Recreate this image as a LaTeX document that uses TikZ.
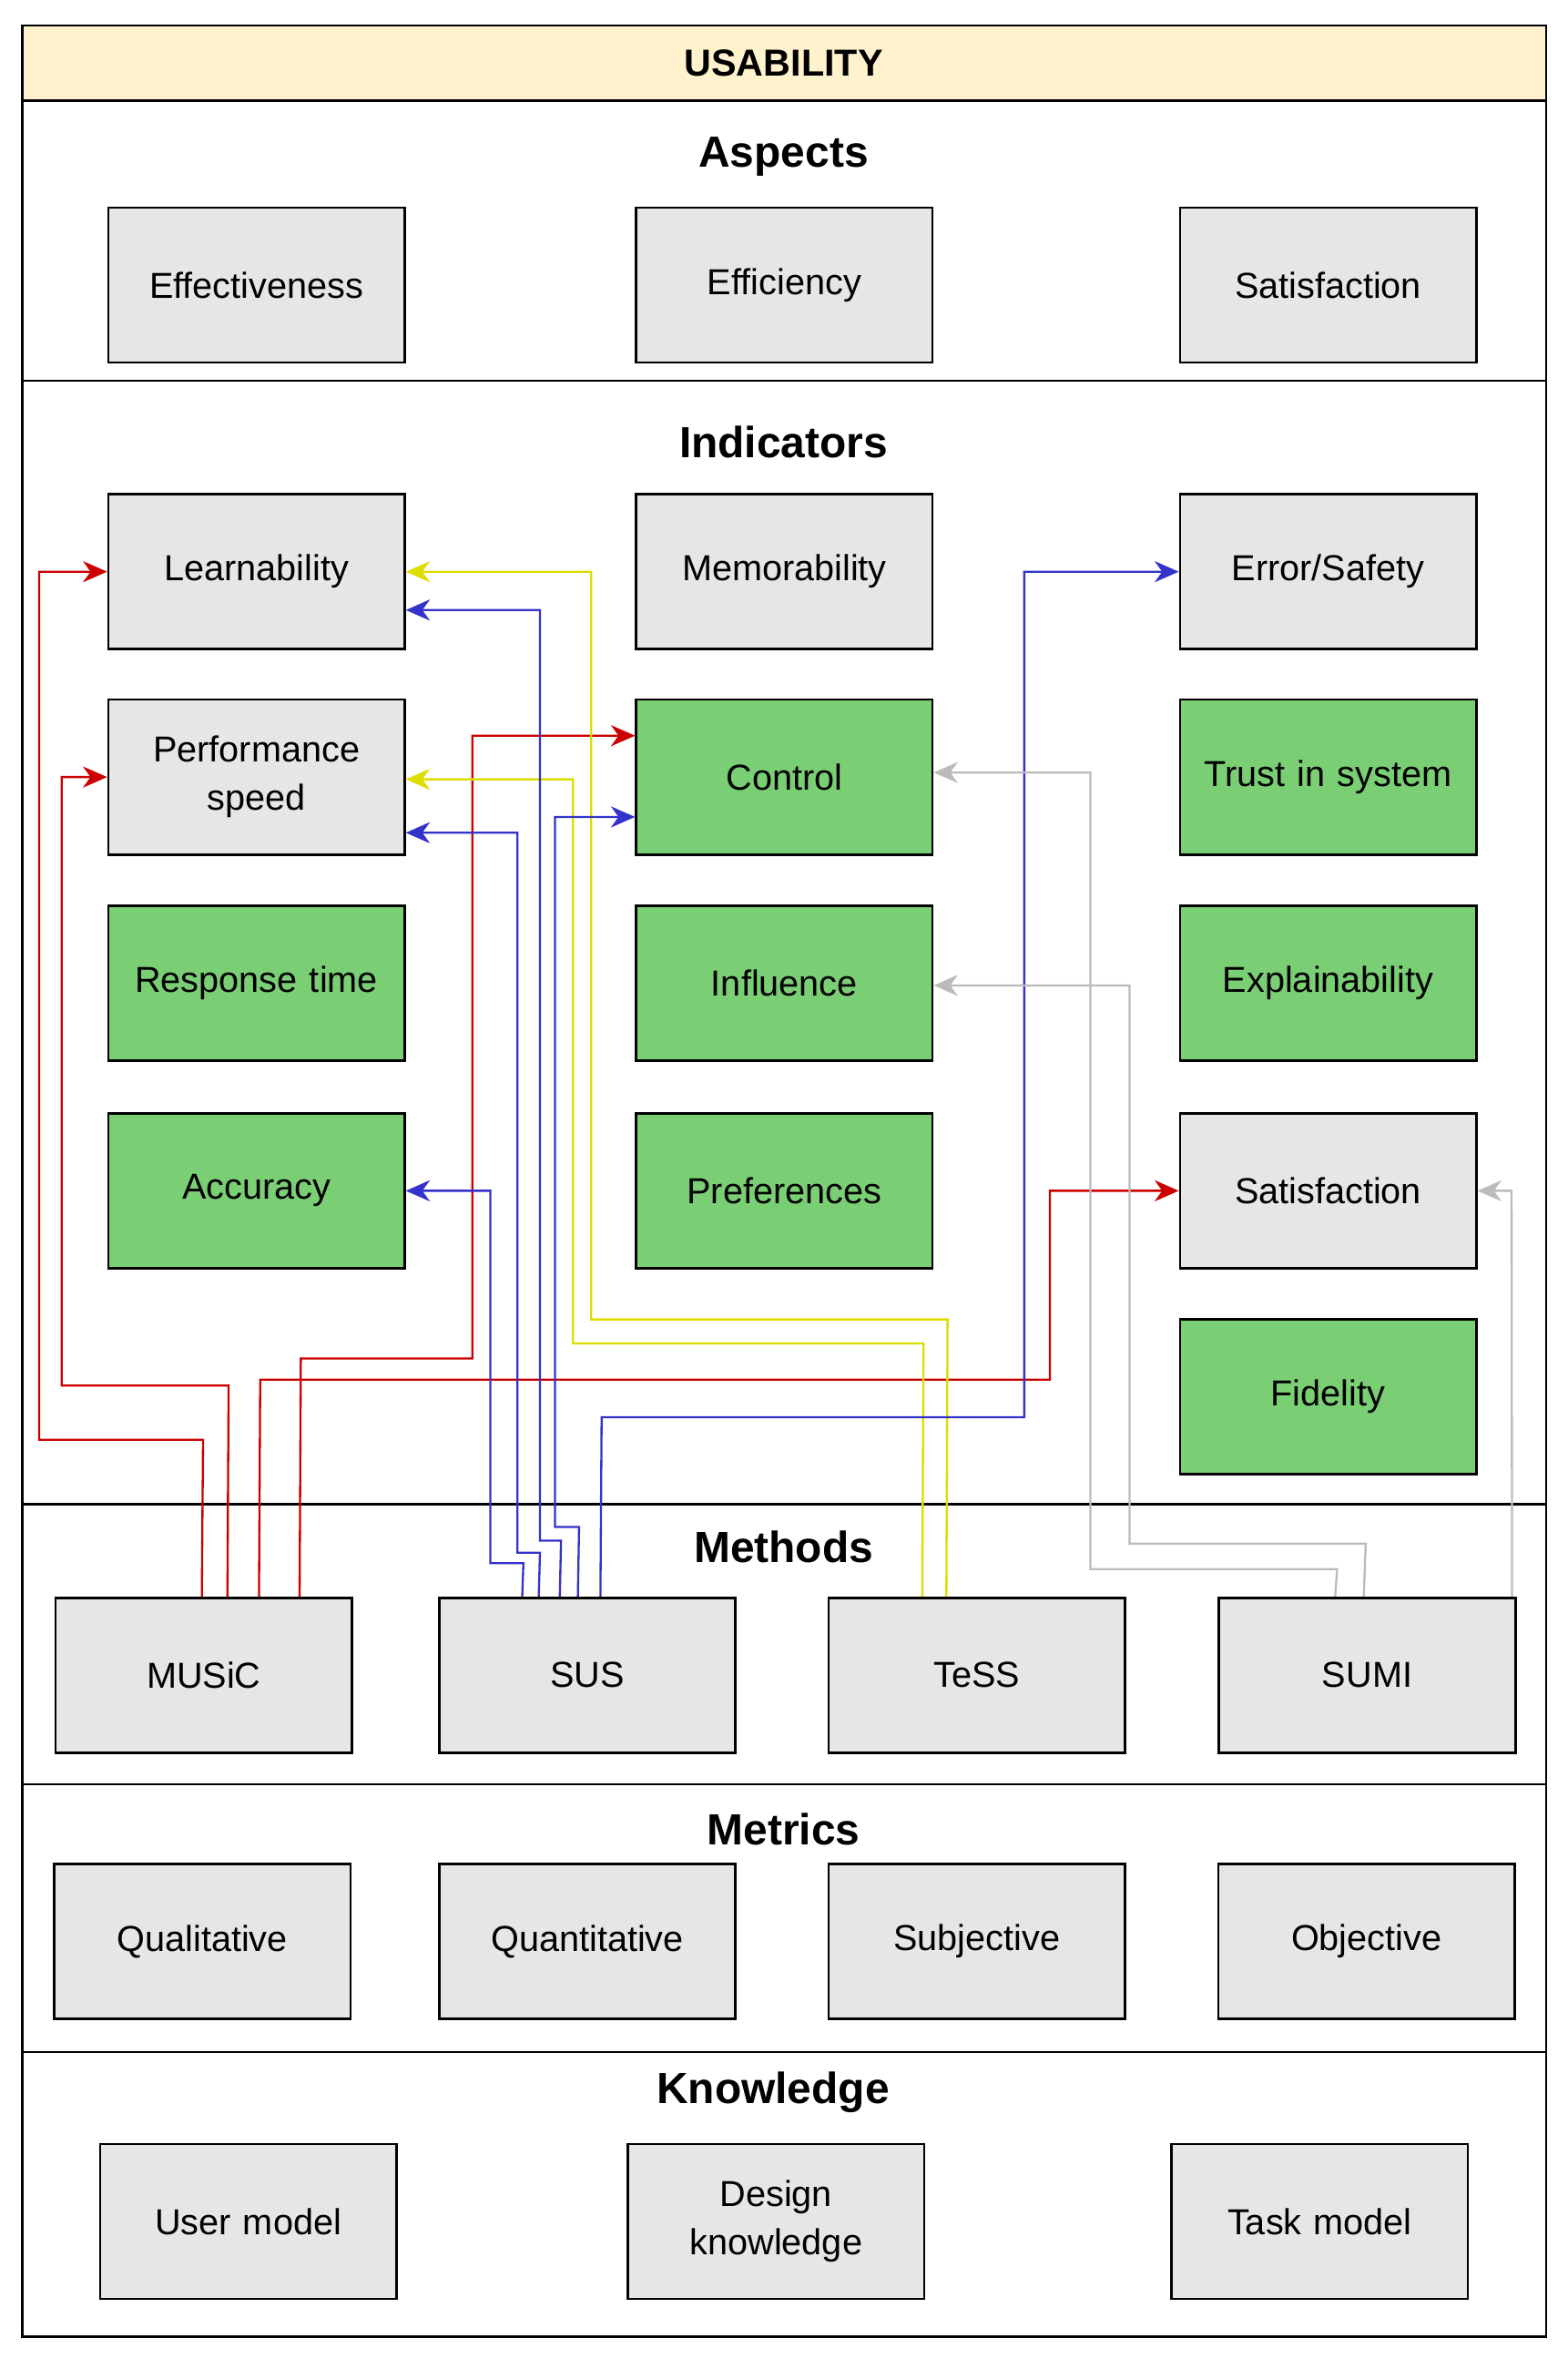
\documentclass[tikz,border=0pt]{standalone}
\usepackage{fontspec}
\setmainfont{Liberation Sans}
\usetikzlibrary{arrows.meta,calc}
\definecolor{boxgray}{HTML}{E6E6E6}
\definecolor{boxgreen}{HTML}{7ACF74}
\definecolor{hdr}{HTML}{FFF2CC}
\definecolor{cred}{HTML}{CC0000}
\definecolor{cyel}{HTML}{DDDD00}
\definecolor{cblue}{HTML}{3333CC}
\definecolor{cgray}{HTML}{BBBBBB}
\begin{document}
\begin{tikzpicture}[x=1pt,y=-1pt,
  box/.style={draw=black,line width=1.6pt,fill=boxgray,minimum width=197pt,minimum height=103pt,inner sep=0pt,align=center,text width=190pt,font=\fontsize{24}{32}\selectfont},
  gbox/.style={box,fill=boxgreen},
  title/.style={font=\fontsize{29}{34}\selectfont\bfseries},
  con/.style={line width=1.4pt,-{Stealth[length=16pt,width=14pt,inset=5pt]}}]
\useasboundingbox (0,0) rectangle (1042,1568);
\fill[white] (0,0) rectangle (1042,1568);
% frame
\fill[hdr] (15,17) rectangle (1028,67);
\draw[line width=1.6pt] (15,17) rectangle (1028,1553);
\foreach \y in {67,253,1000,1186,1364} \draw[line width=1.6pt] (15,\y) -- (1028,\y);
\node[font=\fontsize{25}{30}\selectfont\bfseries] (hd) at (521,42) {USABILITY};
\node[title] (t1) at (521,104) {Aspects};
\node[title] (t2) at (521,294) {Indicators};
\node[title] (t3) at (521,1028) {Methods};
\node[title] (t4) at (521,1216) {Metrics};
\node[title] (t5) at (514,1391) {Knowledge};
% aspects
\node[box] (eff) at (170.5,189.5) {Effectiveness};
\node[box] (effi) at (521.5,189.5) {Efficiency};
\node[box] (sat1) at (883,189.5) {Satisfaction};
% indicators
\node[box] (learn) at (170.5,380) {Learnability};
\node[box] (perf) at (170.5,516.5) {Performance\\speed};
\node[gbox] (resp) at (170.5,653.5) {Response time};
\node[gbox] (acc) at (170.5,791.5) {Accuracy};
\node[box] (mem) at (521.5,380) {Memorability};
\node[gbox] (ctrl) at (521.5,516.5) {Control};
\node[gbox] (infl) at (521.5,653.5) {Influence};
\node[gbox] (pref) at (521.5,791.5) {Preferences};
\node[box] (err) at (883,380) {Error/Safety};
\node[gbox] (trust) at (883,516.5) {Trust in system};
\node[gbox] (expl) at (883,653.5) {Explainability};
\node[box] (sat2) at (883,791.5) {Satisfaction};
\node[gbox] (fid) at (883,928.5) {Fidelity};
% methods
\node[box] (music) at (135.5,1113.5) {MUSiC};
\node[box] (sus) at (390.5,1113.5) {SUS};
\node[box] (tess) at (649.5,1113.5) {TeSS};
\node[box] (sumi) at (909,1113.5) {SUMI};
% metrics
\node[box] (qual) at (134.5,1290.5) {Qualitative};
\node[box] (quan) at (390.5,1290.5) {Quantitative};
\node[box] (subj) at (649.5,1290.5) {Subjective};
\node[box] (obj) at (908.5,1290.5) {Objective};
% knowledge
\node[box] (user) at (165,1476.5) {User model};
\node[box] (design) at (516,1476.5) {Design\\knowledge};
\node[box] (task) at (877.5,1476.5) {Task model};
% red (MUSiC)
\draw[con,cred] ([xshift=98pt]music.north west) -- (135,957) -- (26,957) |- (learn.west);
\draw[con,cred] ([xshift=115pt]music.north west) -- (152,921) -- (41,921) |- (perf.west);
\draw[con,cred] ([xshift=136pt]music.north west) -- (173,917) -- (698,917) |- (sat2.west);
\draw[con,cred] ([xshift=163pt]music.north west) -- (200,903) -- (314,903) |- ([yshift=27.5pt]ctrl.west);
% yellow (TeSS)
\draw[con,cyel] ([xshift=79pt]tess.north west) -- (630,877) -- (393,877) |- (learn.east);
\draw[con,cyel] ([xshift=63pt]tess.north west) -- (614,893) -- (381,893) |- ([yshift=-1.5pt]perf.east);
% blue (SUS)
\draw[con,cblue] ([xshift=56pt]sus.north west) -- (348,1039) -- (326,1039) |- (acc.east);
\draw[con,cblue] ([xshift=67pt]sus.north west) -- (359,1032) -- (344,1032) |- ([yshift=-37pt]perf.east);
\draw[con,cblue] ([xshift=81pt]sus.north west) -- (373,1024) -- (359,1024) |- ([yshift=-25.5pt]learn.east);
\draw[con,cblue] ([xshift=93pt]sus.north west) -- (385,1015) -- (369,1015) |- ([yshift=-26.5pt]ctrl.west);
\draw[con,cblue] ([xshift=108pt]sus.north west) -- (400,942) -- (681,942) |- (err.west);
% gray (SUMI)
\draw[con,cgray] ([xshift=78pt]sumi.north west) -- (889,1043) -- (725,1043) |- ([yshift=3pt]ctrl.east);
\draw[con,cgray] ([xshift=97pt]sumi.north west) -- (908,1026) -- (751,1026) |- ([yshift=-1.5pt]infl.east);
\draw[con,cgray] ([xshift=-3pt]sumi.north east) -- (1005,791.5) -- (sat2.east);
\end{tikzpicture}
\end{document}
